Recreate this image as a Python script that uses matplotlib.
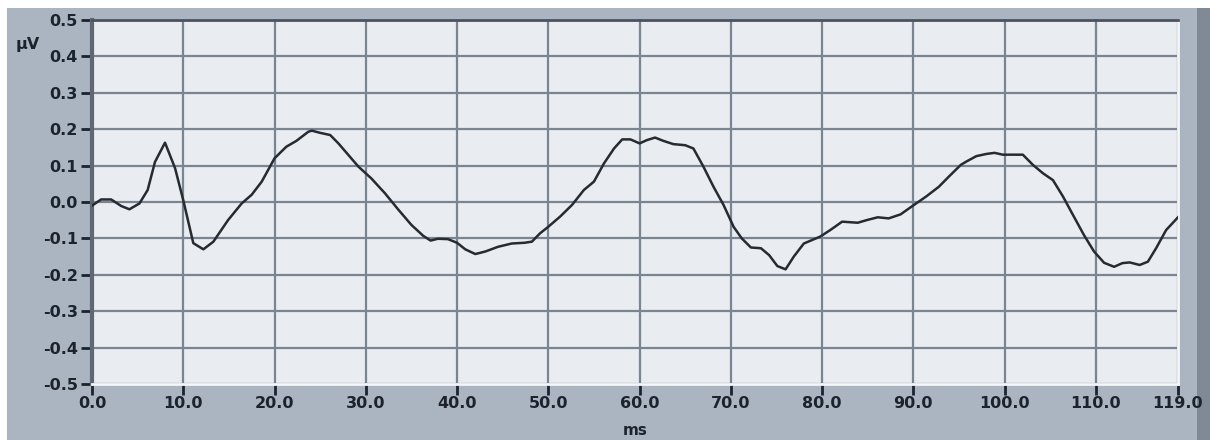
import matplotlib
matplotlib.use('Agg')
import matplotlib.pyplot as plt
from matplotlib.patches import Rectangle

# waveform (time in ms, amplitude in µV)
t_ms = [0.0, 1.0, 2.1, 3.2, 4.1, 5.2, 6.1, 6.9, 8.0, 9.1, 10.0, 11.1, 12.2, 13.3,
        14.9, 16.4, 17.5, 18.6, 20.0, 21.3, 22.4, 23.7, 24.1, 25.0, 26.1, 27.0,
        28.1, 29.2, 30.6, 32.1, 33.6, 35.0, 36.3, 37.1, 37.9, 39.0, 40.0, 40.9,
        42.0, 43.1, 44.5, 46.0, 47.4, 48.2, 49.1, 50.0, 51.3, 52.6, 53.9, 55.0,
        56.1, 57.2, 58.1, 59.0, 60.0, 60.8, 61.7, 62.6, 63.7, 65.0, 65.9, 67.0,
        68.1, 69.2, 70.3, 71.2, 72.2, 73.3, 74.2, 75.1, 76.0, 76.9, 78.0, 79.8,
        80.9, 82.2, 83.9, 85.0, 86.1, 87.3, 88.6, 89.9, 91.4, 92.8, 93.9, 95.2,
        95.8, 96.9, 98.0, 98.9, 99.8, 100.9, 102.0, 103.1, 104.2, 105.3, 106.4,
        107.5, 108.7, 109.8, 110.9, 112.0, 112.9, 113.7, 114.8, 115.7, 116.6,
        117.7, 119.0]
amp_uv = [-0.010, 0.007, 0.007, -0.011, -0.020, -0.004, 0.033, 0.110, 0.163, 0.093,
          0.005, -0.113, -0.130, -0.109, -0.050, -0.004, 0.020, 0.056, 0.120, 0.152,
          0.168, 0.193, 0.196, 0.190, 0.184, 0.161, 0.129, 0.097, 0.065, 0.024,
          -0.022, -0.063, -0.093, -0.106, -0.101, -0.102, -0.112, -0.130, -0.143,
          -0.136, -0.123, -0.114, -0.112, -0.109, -0.086, -0.068, -0.040, -0.008,
          0.033, 0.056, 0.106, 0.147, 0.172, 0.172, 0.161, 0.170, 0.177, 0.168,
          0.159, 0.156, 0.147, 0.097, 0.042, -0.008, -0.068, -0.100, -0.125, -0.127,
          -0.146, -0.176, -0.185, -0.150, -0.114, -0.095, -0.077, -0.054, -0.057,
          -0.049, -0.042, -0.045, -0.034, -0.011, 0.015, 0.042, 0.070, 0.102, 0.111,
          0.126, 0.132, 0.135, 0.130, 0.130, 0.130, 0.102, 0.079, 0.060, 0.015,
          -0.036, -0.091, -0.136, -0.167, -0.178, -0.168, -0.166, -0.173, -0.164,
          -0.127, -0.077, -0.042]

x_ticks = [0, 10, 20, 30, 40, 50, 60, 70, 80, 90, 100, 110, 119]
y_ticks = [-0.5, -0.4, -0.3, -0.2, -0.1, 0.0, 0.1, 0.2, 0.3, 0.4, 0.5]

fig = plt.figure(figsize=(12.1, 4.4), dpi=100, facecolor='white')
# grey panel behind the chart, darker strip on the right
fig.patches.append(Rectangle((7/1210, 0), 1190/1210, 432/440, transform=fig.transFigure,
                             facecolor='#abb5c1', edgecolor='none', zorder=-2))
fig.patches.append(Rectangle((1197/1210, 0), 13/1210, 432/440, transform=fig.transFigure,
                             facecolor='#7f8a96', edgecolor='none', zorder=-1))

ax = fig.add_axes([92/1210, 1 - 384/440, 1086/1210, 364/440])
ax.set_facecolor('#e9edf1')
ax.plot(t_ms, amp_uv, color='#262b31', linewidth=1.8, zorder=3)

ax.set_xlim(0, 119)
ax.set_ylim(-0.5, 0.5)
ax.set_xticks(x_ticks)
ax.set_xticklabels(['%.1f' % v for v in x_ticks])
ax.set_yticks(y_ticks)
ax.set_yticklabels(['%.1f' % v for v in y_ticks])
ax.grid(True, color='#7a8591', linewidth=1.6)
ax.set_axisbelow(True)

for lab in ax.get_xticklabels() + ax.get_yticklabels():
    lab.set_fontweight('bold')
    lab.set_fontsize(11.5)
    lab.set_color('#1c232c')
ax.tick_params(axis='both', direction='out', length=8, width=2, color='#1c232c')
ax.tick_params(axis='y', pad=2)
ax.tick_params(axis='x', pad=1)

ax.spines['left'].set_color('#5d6874')
ax.spines['left'].set_linewidth(3)
ax.spines['top'].set_color('#4a545f')
ax.spines['top'].set_linewidth(2)
ax.spines['bottom'].set_color('#f4f6f8')
ax.spines['bottom'].set_linewidth(2)
ax.spines['right'].set_color('#f4f6f8')
ax.spines['right'].set_linewidth(2)

fig.text(28/1210, 1 - 44/440, 'µV', fontsize=11.5, fontweight='bold', color='#1c232c',
         ha='center', va='center')
fig.text(635/1210, 1 - 430/440, 'ms', fontsize=11, fontweight='bold', color='#1c232c',
         ha='center', va='center')

fig.savefig('out.png', dpi=100, facecolor=fig.get_facecolor())
